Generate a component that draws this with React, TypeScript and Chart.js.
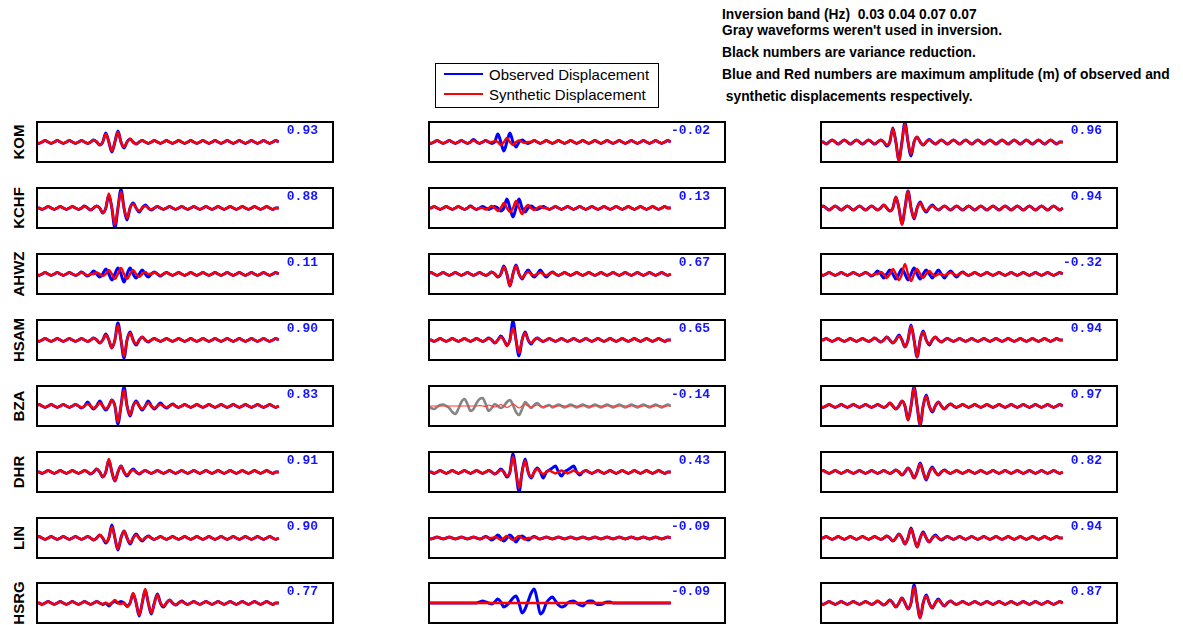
import React, { useEffect, useRef } from "react";
import { Chart, registerables } from "chart.js";

Chart.register(...registerables);

// ---------------- data ----------------
const stations = ["KOM", "KCHF", "AHWZ", "HSAM", "BZA", "DHR", "LIN", "HSRG"];

const varianceReduction = [
  [0.93, -0.02, 0.96],
  [0.88, 0.13, 0.94],
  [0.11, 0.67, -0.32],
  [0.9, 0.65, 0.94],
  [0.83, -0.14, 0.97],
  [0.91, 0.43, 0.82],
  [0.9, -0.09, 0.94],
  [0.77, -0.09, 0.87],
];

const unusedInInversion = [
  [false, false, false],
  [false, false, false],
  [false, false, false],
  [false, false, false],
  [false, true, false],
  [false, false, false],
  [false, false, false],
  [false, false, false],
];

const legendLabels = ["Observed Displacement", "Synthetic Displacement"];

const notes = [
  "Inversion band (Hz)  0.03 0.04 0.07 0.07",
  "Gray waveforms weren't used in inversion.",
  "Black numbers are variance reduction.",
  "Blue and Red numbers are maximum amplitude (m) of observed and",
  " synthetic displacements respectively.",
];

// waveforms (81 samples each, displacement in panel units)
const obsKOM1 = [0,-1.5,0,1.5,0,-1.5,0,1.5,0,-1.5, 0,1.5,0,-1.5,0,1.5,0,-1.5,0,2, 0,-3,0,9,0,-10,0,11,0,-6, 0,3,0,-2,0,1.5,0,-1.5,0,1.5, 0,-1.5,0,1.5,0,-1.5,0,1.5,0,-1.5, 0,1.5,0,-1.5,0,1.5,0,-1.5,0,1.5, 0,-1.5,0,1.5,0,-1.5,0,1.5,0,-1.5, 0,1.5,0,-1.5,0,1.5,0,-1.5,0,1.5, 0];
const synKOM1 = [0,-1.5,0,1.5,0,-1.5,0,1.5,0,-1.5, 0,1.5,0,-1.5,0,1.5,0,-1.5,0,2, 0,-3,0,8,0,-9,0,10,0,-5, 0,3,0,-2,0,1.5,0,-1.5,0,1.5, 0,-1.5,0,1.5,0,-1.5,0,1.5,0,-1.5, 0,1.5,0,-1.5,0,1.5,0,-1.5,0,1.5, 0,-1.5,0,1.5,0,-1.5,0,1.5,0,-1.5, 0,1.5,0,-1.5,0,1.5,0,-1.5,0,1.5, 0];
const obsKOM2 = [0,-1.5,0,1.5,0,-1.5,0,1.5,0,-1.5, 0,1.5,0,-1.5,0,2.5,0,-1.5,0,1.5, 0,-1.5,0,8,0,-9,0,9,0,-5, 0,2,0,-1.5,0,1.5,0,-1.5,0,1.5, 0,-1.5,0,1.5,0,-1.5,0,1.5,0,-1.5, 0,1.5,0,-1.5,0,1.5,0,-1.5,0,1.5, 0,-1.5,0,1.5,0,-1.5,0,1.5,0,-1.5, 0,1.5,0,-1.5,0,1.5,0,-1.5,0,1.5, 0];
const synKOM2 = [0,-1.5,0,1.5,0,-1.5,0,1.5,0,-1.5, 0,1.5,0,-1.5,0,1.5,0,-1.5,0,1.5, 0,0,1,0,-3,0,4,0,-3,0, 1.5,0,-1,0,0,1.5,0,-1.5,0,1.5, 0,-1.5,0,1.5,0,-1.5,0,1.5,0,-1.5, 0,1.5,0,-1.5,0,1.5,0,-1.5,0,1.5, 0,-1.5,0,1.5,0,-1.5,0,1.5,0,-1.5, 0,1.5,0,-1.5,0,1.5,0,-1.5,0,1.5, 0];
const obsKOM3 = [0,0,-2,0,2,0,-2,0,2,0, -2,0,2,0,-2,0,2,0,-2,0, 2,0,-4,0,14,0,-18,0,19.5,0, -14,0,5,0,-3,0,2.5,0,-2,0, 2,0,-2,0,2,0,-2,0,2,0, -2,0,2,0,-2,0,2,0,-2,0, 2,0,-2,0,2,0,-2,0,2,0, -2,0,2,0,-2,0,2,0,-2,0, 0];
const synKOM3 = [0,0,-2,0,2,0,-2,0,2,0, -2,0,2,0,-2,0,2,0,-2,0, 2,0,-3,0,13,0,-20,0,18,0, -12,0,5,0,-3,0,2,0,-2,0, 2,0,-2,0,2,0,-2,0,2,0, -2,0,2,0,-2,0,2,0,-2,0, 2,0,-2,0,2,0,-2,0,2,0, -2,0,2,0,-2,0,2,0,-2,0, 0];

const obsKCHF1 = [0,0,-1.5,0,1.5,0,-1.5,0,1.5,0, -1.5,0,1.5,0,-1.5,0,2,0,-2,0, 2,0,-5,0,13,0,-20,0,18.5,0, -12,0,5,0,-4,0,3,0,-2,0, 1.5,0,-1.5,0,1.5,0,-1.5,0,1.5,0, -1.5,0,1.5,0,-1.5,0,1.5,0,-1.5,0, 1.5,0,-1.5,0,1.5,0,-1.5,0,1.5,0, -1.5,0,1.5,0,-1.5,0,1.5,0,-1.5,0, 0];
const synKCHF1 = [0,0,-1.5,0,1.5,0,-1.5,0,1.5,0, -1.5,0,1.5,0,-1.5,0,1.5,0,-2,0, 2,0,-5,0,14.5,0,-17,0,16,0, -10,0,4,0,-3,0,2,0,-1.5,0, 1.5,0,-1.5,0,1.5,0,-1.5,0,1.5,0, -1.5,0,1.5,0,-1.5,0,1.5,0,-1.5,0, 1.5,0,-1.5,0,1.5,0,-1.5,0,1.5,0, -1.5,0,1.5,0,-1.5,0,1.5,0,-1.5,0, 0];
const obsKCHF2 = [0,0,1.5,0,-1.5,0,1.5,0,-1.5,0, 1.5,0,-1.5,0,2,0,-1.5,0,1.5,0, -1.5,0,1.5,0,-3,0,9,0,-9,0, 9,0,-4,0,2,0,-1.5,0,1.5,0, -1.5,0,1.5,0,-1.5,0,1.5,0,-1.5,0, 1.5,0,-1.5,0,1.5,0,-1.5,0,1.5,0, -1.5,0,1.5,0,-1.5,0,1.5,0,-1.5,0, 1.5,0,-1.5,0,1.5,0,-1.5,0,1.5,0, 0];
const synKCHF2 = [0,0,1.5,0,-1.5,0,1.5,0,-1.5,0, 1.5,0,-1.5,0,1.5,0,-1.5,0,0,-1.5, 0,2,0,-3,0,5,0,-4,0,7, 0,-6,0,3,0,-2,0,1.5,0,0, -1.5,0,1.5,0,-1.5,0,1.5,0,-1.5,0, 1.5,0,-1.5,0,1.5,0,-1.5,0,1.5,0, -1.5,0,1.5,0,-1.5,0,1.5,0,-1.5,0, 1.5,0,-1.5,0,1.5,0,-1.5,0,1.5,0, 0];
const obsKCHF3 = [0,2,0,-2,0,2,0,-2,0,2, 0,-2,0,2,0,-2,0,2,0,-2, 0,3,0,-3,0,11,0,-16,0,17, 0,-11,0,6,0,-4,0,3,0,-2, 0,2,0,-2,0,2,0,-2,0,2, 0,-2,0,2,0,-2,0,2,0,-2, 0,2,0,-2,0,2,0,-2,0,2, 0,-2,0,2,0,-2,0,2,0,-2, 0];
const synKCHF3 = [0,2,0,-2,0,2,0,-2,0,2, 0,-2,0,2,0,-2,0,2,0,-2, 0,3,0,-3,0,11,0,-17,0,17, 0,-10,0,5,0,-3,0,2,0,-2, 0,2,0,-2,0,2,0,-2,0,2, 0,-2,0,2,0,-2,0,2,0,-2, 0,2,0,-2,0,2,0,-2,0,2, 0,-2,0,2,0,-2,0,2,0,-2, 0];

const obsAHWZ1 = [0,-1.5,0,1.5,0,-1.5,0,1.5,0,-1.5, 0,1.5,0,-1.5,0,2,0,-2,0,3, 0,-3,0,5,0,-6,0,6,0,-8, 0,6,0,-4,0,4,0,-3,0,2, 0,-2,0,1.5,0,-1.5,0,1.5,0,-1.5, 0,1.5,0,-1.5,0,1.5,0,-1.5,0,1.5, 0,-1.5,0,1.5,0,-1.5,0,1.5,0,-1.5, 0,1.5,0,-1.5,0,1.5,0,-1.5,0,1.5, 0];
const synAHWZ1 = [0,-1.5,0,1.5,0,-1.5,0,1.5,0,-1.5, 0,1.5,0,-1.5,0,1.5,0,-1.5,0,0, 1.5,0,-2,0,4,0,-5,0,6,0, -5,0,4,0,-3,0,2,0,0,1.5, 0,-1.5,0,1.5,0,-1.5,0,1.5,0,-1.5, 0,1.5,0,-1.5,0,1.5,0,-1.5,0,1.5, 0,-1.5,0,1.5,0,-1.5,0,1.5,0,-1.5, 0,1.5,0,-1.5,0,1.5,0,-1.5,0,1.5, 0];
const obsAHWZ2 = [0,1.5,0,-1.5,0,1.5,0,-1.5,0,1.5, 0,-1.5,0,1.5,0,-1.5,0,1.5,0,-1.5, 0,2,0,-3,0,8,0,-12,0,9, 0,-5,0,4,0,-3,0,4,0,-3, 0,2,0,-1.5,0,1.5,0,-1.5,0,1.5, 0,-1.5,0,1.5,0,-1.5,0,1.5,0,-1.5, 0,1.5,0,-1.5,0,1.5,0,-1.5,0,1.5, 0,-1.5,0,1.5,0,-1.5,0,1.5,0,-1.5, 0];
const synAHWZ2 = [0,1.5,0,-1.5,0,1.5,0,-1.5,0,1.5, 0,-1.5,0,1.5,0,-1.5,0,1.5,0,-1.5, 0,2,0,-3,0,7,0,-12,0,8, 0,-4,0,2,0,-1.5,0,1.5,0,-1.5, 0,1.5,0,-1.5,0,1.5,0,-1.5,0,1.5, 0,-1.5,0,1.5,0,-1.5,0,1.5,0,-1.5, 0,1.5,0,-1.5,0,1.5,0,-1.5,0,1.5, 0,-1.5,0,1.5,0,-1.5,0,1.5,0,-1.5, 0];
const obsAHWZ3 = [0,-1.5,0,1.5,0,-1.5,0,1.5,0,-1.5, 0,1.5,0,-1.5,0,1.5,0,-2,0,3, 0,-4,0,4,0,-5,0,5,0,-6, 0,6,0,-5,0,4,0,-4,0,4, 0,-4,0,3,0,-3,0,2,0,-1.5, 0,1.5,0,-1.5,0,1.5,0,-1.5,0,1.5, 0,-1.5,0,1.5,0,-1.5,0,1.5,0,-1.5, 0,1.5,0,-1.5,0,1.5,0,-1.5,0,1.5, 0];
const synAHWZ3 = [0,-1.5,0,1.5,0,-1.5,0,1.5,0,-1.5, 0,1.5,0,-1.5,0,1.5,0,-1.5,0,0, 2,0,-4,0,5,0,-6,0,10,0, -7,0,5,0,-4,0,3,0,-2,0, 0,-1.5,0,1.5,0,-1.5,0,1.5,0,-1.5, 0,1.5,0,-1.5,0,1.5,0,-1.5,0,1.5, 0,-1.5,0,1.5,0,-1.5,0,1.5,0,-1.5, 0,1.5,0,-1.5,0,1.5,0,-1.5,0,1.5, 0];

const obsHSAM1 = [0,-1.5,0,1.5,0,-1.5,0,1.5,0,-1.5, 0,1.5,0,-1.5,0,1.5,0,-1.5,0,2, 0,-3,0,6,0,-8,0,17,0,-18, 0,8,0,-5,0,3,0,-2,0,1.5, 0,-1.5,0,1.5,0,-1.5,0,1.5,0,-1.5, 0,1.5,0,-1.5,0,1.5,0,-1.5,0,1.5, 0,-1.5,0,1.5,0,-1.5,0,1.5,0,-1.5, 0,1.5,0,-1.5,0,1.5,0,-1.5,0,1.5, 0];
const synHSAM1 = [0,-1.5,0,1.5,0,-1.5,0,1.5,0,-1.5, 0,1.5,0,-1.5,0,1.5,0,-1.5,0,2, 0,-3,0,5,0,-8,0,15,0,-16, 0,7,0,-4,0,3,0,-1.5,0,1.5, 0,-1.5,0,1.5,0,-1.5,0,1.5,0,-1.5, 0,1.5,0,-1.5,0,1.5,0,-1.5,0,1.5, 0,-1.5,0,1.5,0,-1.5,0,1.5,0,-1.5, 0,1.5,0,-1.5,0,1.5,0,-1.5,0,1.5, 0];
const obsHSAM2 = [0,0,-1.5,0,1.5,0,-1.5,0,1.5,0, -1.5,0,1.5,0,-1.5,0,1.5,0,-1.5,0, 2,0,-3,0,4,0,-5,0,19,0, -16,0,8,0,-4,0,2,0,-1.5,0, 1.5,0,-1.5,0,1.5,0,-1.5,0,1.5,0, -1.5,0,1.5,0,-1.5,0,1.5,0,-1.5,0, 1.5,0,-1.5,0,1.5,0,-1.5,0,1.5,0, -1.5,0,1.5,0,-1.5,0,1.5,0,-1.5,0, 0];
const synHSAM2 = [0,0,-1.5,0,1.5,0,-1.5,0,1.5,0, -1.5,0,1.5,0,-1.5,0,1.5,0,-1.5,0, 1.5,0,-3,0,3,0,-6,0,12,0, -13,0,7,0,-3,0,2,0,-1.5,0, 1.5,0,-1.5,0,1.5,0,-1.5,0,1.5,0, -1.5,0,1.5,0,-1.5,0,1.5,0,-1.5,0, 1.5,0,-1.5,0,1.5,0,-1.5,0,1.5,0, -1.5,0,1.5,0,-1.5,0,1.5,0,-1.5,0, 0];
const obsHSAM3 = [0,0,1.5,0,-1.5,0,1.5,0,-1.5,0, 1.5,0,-1.5,0,1.5,0,-1.5,0,2,0, -2,0,3,0,-3,0,5,0,-7,0, 15,0,-17,0,9,0,-5,0,3,0, -2,0,1.5,0,-1.5,0,1.5,0,-1.5,0, 1.5,0,-1.5,0,1.5,0,-1.5,0,1.5,0, -1.5,0,1.5,0,-1.5,0,1.5,0,-1.5,0, 1.5,0,-1.5,0,1.5,0,-1.5,0,1.5,0, 0];
const synHSAM3 = [0,0,1.5,0,-1.5,0,1.5,0,-1.5,0, 1.5,0,-1.5,0,1.5,0,-1.5,0,2,0, -2,0,3,0,-3,0,4,0,-7,0, 14,0,-17,0,8,0,-4,0,3,0, -2,0,1.5,0,-1.5,0,1.5,0,-1.5,0, 1.5,0,-1.5,0,1.5,0,-1.5,0,1.5,0, -1.5,0,1.5,0,-1.5,0,1.5,0,-1.5,0, 1.5,0,-1.5,0,1.5,0,-1.5,0,1.5,0, 0];

const obsBZA1 = [0,1.5,0,-1.5,0,1.5,0,-1.5,0,1.5, 0,-1.5,0,1.5,0,-2,0,4,0,-3, 0,5,0,-4,0,6,0,-18,0,19, 0,-10,0,5,0,-4,0,5,0,-3, 0,3,0,-2,0,2,0,-1.5,0,1.5, 0,-1.5,0,1.5,0,-1.5,0,1.5,0,-1.5, 0,1.5,0,-1.5,0,1.5,0,-1.5,0,1.5, 0,-1.5,0,1.5,0,-1.5,0,1.5,0,-1.5, 0];
const synBZA1 = [0,1.5,0,-1.5,0,1.5,0,-1.5,0,1.5, 0,-1.5,0,1.5,0,-1.5,0,2,0,-2, 0,3,0,-3,0,6,0,-16,0,16, 0,-9,0,4,0,-3,0,3,0,-2, 0,1.5,0,-1.5,0,1.5,0,-1.5,0,1.5, 0,-1.5,0,1.5,0,-1.5,0,1.5,0,-1.5, 0,1.5,0,-1.5,0,1.5,0,-1.5,0,1.5, 0,-1.5,0,1.5,0,-1.5,0,1.5,0,-1.5, 0];
const obsBZA2 = [0,-2,-3,-1,1,1.5,0,-2,-6,-8, -3,4,7,2,-5,-3,3,7,8,2, -5,-2,2,0,-2,0,4,6,1,-6, -9,-3,4,1,-2,1,3,0,-1.5,0, 1,-1.5,0,1.5,0,-1.5,0,1.5,0,-1.5, 0,1.5,0,-1.5,0,1.5,0,-1.5,0,1.5, 0,-1.5,0,1.5,0,-1.5,0,1.5,0,-1.5, 0,1.5,0,-1.5,0,1.5,0,-1.5,0,1.5, 0];
const synBZA2 = [0,0,0,0,0,0,0,0,0,0, 0,0,0,0,0,0,0,0.5,0,-0.5, 1,0,-1,0,1.5,0,-1.5,0,2,0, -2,0,1.5,0,-1,0,1,0,-0.5,0, 0.5,0,-0.5,0,0.5,0,-0.5,0,0.5,0, -0.5,0,0.5,0,-0.5,0,0.5,0,-0.5,0, 0.5,0,-0.5,0,0.5,0,-0.5,0,0.5,0, -0.5,0,0.5,0,-0.5,0,0.5,0,-0.5,0, 0];
const obsBZA3 = [0,-1.5,0,1.5,0,-1.5,0,1.5,0,-1.5, 0,1.5,0,-1.5,0,1.5,0,-1.5,0,1.5, 0,-1.5,0,3,0,-3,0,5,0,-14, 0,19,0,-19,0,11,0,-6,0,4, 0,-3,0,2,0,-1.5,0,1.5,0,-1.5, 0,1.5,0,-1.5,0,1.5,0,-1.5,0,1.5, 0,-1.5,0,1.5,0,-1.5,0,1.5,0,-1.5, 0,1.5,0,-1.5,0,1.5,0,-1.5,0,1.5, 0];
const synBZA3 = [0,-1.5,0,1.5,0,-1.5,0,1.5,0,-1.5, 0,1.5,0,-1.5,0,1.5,0,-1.5,0,1.5, 0,-1.5,0,3,0,-3,0,5,0,-14, 0,18,0,-19,0,10,0,-5,0,4, 0,-3,0,2,0,-1.5,0,1.5,0,-1.5, 0,1.5,0,-1.5,0,1.5,0,-1.5,0,1.5, 0,-1.5,0,1.5,0,-1.5,0,1.5,0,-1.5, 0,1.5,0,-1.5,0,1.5,0,-1.5,0,1.5, 0];

const obsDHR1 = [0,0,-1.5,0,1.5,0,-1.5,0,1.5,0, -1.5,0,1.5,0,-1.5,0,1.5,0,-2,0, 3,0,-5,0,12,0,-9,0,6,0, -4,0,3,0,-2,0,1.5,0,-1.5,0, 1.5,0,-1.5,0,1.5,0,-1.5,0,1.5,0, -1.5,0,1.5,0,-1.5,0,1.5,0,-1.5,0, 1.5,0,-1.5,0,1.5,0,-1.5,0,1.5,0, -1.5,0,1.5,0,-1.5,0,1.5,0,-1.5,0, 0];
const synDHR1 = [0,0,-1.5,0,1.5,0,-1.5,0,1.5,0, -1.5,0,1.5,0,-1.5,0,1.5,0,-1.5,0, 3,0,-5,0,13,0,-9,0,6,0, -3,0,2,0,-1.5,0,1.5,0,-1.5,0, 1.5,0,-1.5,0,1.5,0,-1.5,0,1.5,0, -1.5,0,1.5,0,-1.5,0,1.5,0,-1.5,0, 1.5,0,-1.5,0,1.5,0,-1.5,0,1.5,0, -1.5,0,1.5,0,-1.5,0,1.5,0,-1.5,0, 0];
const obsDHR2 = [0,0,-1.5,0,1.5,0,-1.5,0,1.5,0, -1.5,0,1.5,0,-1.5,0,1.5,0,-1.5,0, 1.5,0,-2,0,3,0,-5,0,18,0, -20,0,13,0,-6,0,4,0,-6,0, 2,4,6,0,-4,0,2,4,6,0, -3,0,1.5,0,-1.5,0,1.5,0,-1.5,0, 1.5,0,-1.5,0,1.5,0,-1.5,0,1.5,0, -1.5,0,1.5,0,-1.5,0,1.5,0,-1.5,0, 0];
const synDHR2 = [0,0,-1.5,0,1.5,0,-1.5,0,1.5,0, -1.5,0,1.5,0,-1.5,0,1.5,0,-1.5,0, 1.5,0,-2,0,2,0,-4,0,15,0, -16,0,11,0,-5,0,3,0,-2,0, 1.5,0,-1.5,0,1.5,0,-1.5,0,1.5,0, -1.5,0,1.5,0,-1.5,0,1.5,0,-1.5,0, 1.5,0,-1.5,0,1.5,0,-1.5,0,1.5,0, -1.5,0,1.5,0,-1.5,0,1.5,0,-1.5,0, 0];
const obsDHR3 = [0,1.5,0,-1.5,0,1.5,0,-1.5,0,1.5, 0,-1.5,0,1.5,0,-1.5,0,1.5,0,-1.5, 0,1.5,0,-1.5,0,2,0,-3,0,4, 0,-6,0,9,0,-8,0,5,0,-3, 0,2,0,-1.5,0,1.5,0,-1.5,0,1.5, 0,-1.5,0,1.5,0,-1.5,0,1.5,0,-1.5, 0,1.5,0,-1.5,0,1.5,0,-1.5,0,1.5, 0,-1.5,0,1.5,0,-1.5,0,1.5,0,-1.5, 0];
const synDHR3 = [0,1.5,0,-1.5,0,1.5,0,-1.5,0,1.5, 0,-1.5,0,1.5,0,-1.5,0,1.5,0,-1.5, 0,1.5,0,-1.5,0,2,0,-3,0,4, 0,-6,0,8,0,-7,0,4,0,-3, 0,1.5,0,-1.5,0,1.5,0,-1.5,0,1.5, 0,-1.5,0,1.5,0,-1.5,0,1.5,0,-1.5, 0,1.5,0,-1.5,0,1.5,0,-1.5,0,1.5, 0,-1.5,0,1.5,0,-1.5,0,1.5,0,-1.5, 0];

const obsLIN1 = [0,1.5,0,-1.5,0,1.5,0,-1.5,0,1.5, 0,-1.5,0,1.5,0,-1.5,0,1.5,0,-2, 0,3,0,-5,0,13,0,-12,0,7, 0,-6,0,4,0,-3,0,2,0,-1.5, 0,1.5,0,-1.5,0,1.5,0,-1.5,0,1.5, 0,-1.5,0,1.5,0,-1.5,0,1.5,0,-1.5, 0,1.5,0,-1.5,0,1.5,0,-1.5,0,1.5, 0,-1.5,0,1.5,0,-1.5,0,1.5,0,-1.5, 0];
const synLIN1 = [0,1.5,0,-1.5,0,1.5,0,-1.5,0,1.5, 0,-1.5,0,1.5,0,-1.5,0,1.5,0,-2, 0,3,0,-4,0,11,0,-11,0,7, 0,-5,0,3,0,-2,0,1.5,0,-1.5, 0,1.5,0,-1.5,0,1.5,0,-1.5,0,1.5, 0,-1.5,0,1.5,0,-1.5,0,1.5,0,-1.5, 0,1.5,0,-1.5,0,1.5,0,-1.5,0,1.5, 0,-1.5,0,1.5,0,-1.5,0,1.5,0,-1.5, 0];
const obsLIN2 = [0,-1,0,1,0,-1,0,1,0,-1, 0,1,0,-1,0,1,0,-1,0,1.5, 0,-2,0,3,0,-3,0,3,0,-4, 0,2,0,-2,0,1.5,0,-1,0,1, 0,-1,0,1,0,-1,0,1,0,-1, 0,1,0,-1,0,1,0,-1,0,1, 0,-1,0,1,0,-1,0,1,0,-1, 0,1,0,-1,0,1,0,-1,0,1, 0];
const synLIN2 = [0,-1,0,1,0,-1,0,1,0,-1, 0,1,0,-1,0,1,0,-1,0,1, 0,0,1,0,-2,0,2,0,-2,0, 2,0,-1.5,0,0,1,0,-1,0,1, 0,-1,0,1,0,-1,0,1,0,-1, 0,1,0,-1,0,1,0,-1,0,1, 0,-1,0,1,0,-1,0,1,0,-1, 0,1,0,-1,0,1,0,-1,0,1, 0];
const obsLIN3 = [0,0,1.5,0,-1.5,0,1.5,0,-1.5,0, 1.5,0,-1.5,0,1.5,0,-1.5,0,1.5,0, -1.5,0,2,0,-3,0,4,0,-6,0, 10,0,-9,0,6,0,-4,0,3,0, -2,0,1.5,0,-1.5,0,1.5,0,-1.5,0, 1.5,0,-1.5,0,1.5,0,-1.5,0,1.5,0, -1.5,0,1.5,0,-1.5,0,1.5,0,-1.5,0, 1.5,0,-1.5,0,1.5,0,-1.5,0,1.5,0, 0];
const synLIN3 = [0,0,1.5,0,-1.5,0,1.5,0,-1.5,0, 1.5,0,-1.5,0,1.5,0,-1.5,0,1.5,0, -1.5,0,2,0,-3,0,4,0,-6,0, 9,0,-9,0,5,0,-4,0,2,0, -1.5,0,1.5,0,-1.5,0,1.5,0,-1.5,0, 1.5,0,-1.5,0,1.5,0,-1.5,0,1.5,0, -1.5,0,1.5,0,-1.5,0,1.5,0,-1.5,0, 1.5,0,-1.5,0,1.5,0,-1.5,0,1.5,0, 0];

const obsHSRG1 = [0,0,-1.5,0,1.5,0,-1.5,0,1.5,0, -1.5,0,1.5,0,-1.5,0,1.5,0,-1.5,0, 1.5,0,-1.5,0,-3,0,1.5,0,1.5,0, -3,0,9,0,-13,0,13,0,-11,0, 9,0,-4,0,3,0,-2,0,2,0, -1.5,0,1.5,0,-1.5,0,1.5,0,-1.5,0, 1.5,0,-1.5,0,1.5,0,-1.5,0,1.5,0, -1.5,0,1.5,0,-1.5,0,1.5,0,-1.5,0, 0];
const synHSRG1 = [0,0,-1.5,0,1.5,0,-1.5,0,1.5,0, -1.5,0,1.5,0,-1.5,0,1.5,0,-1.5,0, 1.5,0,-1,0,-1,0,3,0,-1,0, -4,0,10,0,-12,0,14,0,-10,0, 8,0,-3,0,3,0,-2,0,1.5,0, -1.5,0,1.5,0,-1.5,0,1.5,0,-1.5,0, 1.5,0,-1.5,0,1.5,0,-1.5,0,1.5,0, -1.5,0,1.5,0,-1.5,0,1.5,0,-1.5,0, 0];
const obsHSRG2 = [0,0,0,0,0,0,0,0,0,0, 0,0,0,0,0,0,0,1,2,1, 0,-1,1,4,1,-4,-2,1,5,7, 0,-10,-6,2,10,14,3,-11,-8,0, 4,6,2,-2,-4,-3,0,1.5,2,0, -2,-3,0,2,2,0,-1.5,-1.5,0,1, 1,0,0,0,0,0,0,0,0,0, 0,0,0,0,0,0,0,0,0,0, 0];
const synHSRG2 = [0,0,0,0,0,0,0,0,0,0, 0,0,0,0,0,0,0,0,0,0, 0,0,0,0,0,0,0,0,0,0, 0,0,0,0,0,0,0,0,0,0, 0,0,0,0,0,0,0,0,0,0, 0,0,0,0,0,0,0,0,0,0, 0,0,0,0,0,0,0,0,0,0, 0,0,0,0,0,0,0,0,0,0, 0];
const obsHSRG3 = [0,-1.5,0,1.5,0,-1.5,0,1.5,0,-1.5, 0,1.5,0,-1.5,0,1.5,0,-1.5,0,2, 0,-2,0,3,0,-4,0,5,0,-6, 0,18,0,-15,0,8,0,-5,0,4, 0,-3,0,2,0,-1.5,0,1.5,0,-1.5, 0,1.5,0,-1.5,0,1.5,0,-1.5,0,1.5, 0,-1.5,0,1.5,0,-1.5,0,1.5,0,-1.5, 0,1.5,0,-1.5,0,1.5,0,-1.5,0,1.5, 0];
const synHSRG3 = [0,-1.5,0,1.5,0,-1.5,0,1.5,0,-1.5, 0,1.5,0,-1.5,0,1.5,0,-1.5,0,2, 0,-2,0,3,0,-4,0,5,0,-6, 0,16,0,-15,0,7,0,-5,0,3, 0,-3,0,2,0,-1.5,0,1.5,0,-1.5, 0,1.5,0,-1.5,0,1.5,0,-1.5,0,1.5, 0,-1.5,0,1.5,0,-1.5,0,1.5,0,-1.5, 0,1.5,0,-1.5,0,1.5,0,-1.5,0,1.5, 0];

const observed = [
  [obsKOM1, obsKOM2, obsKOM3],
  [obsKCHF1, obsKCHF2, obsKCHF3],
  [obsAHWZ1, obsAHWZ2, obsAHWZ3],
  [obsHSAM1, obsHSAM2, obsHSAM3],
  [obsBZA1, obsBZA2, obsBZA3],
  [obsDHR1, obsDHR2, obsDHR3],
  [obsLIN1, obsLIN2, obsLIN3],
  [obsHSRG1, obsHSRG2, obsHSRG3],
];
const synthetic = [
  [synKOM1, synKOM2, synKOM3],
  [synKCHF1, synKCHF2, synKCHF3],
  [synAHWZ1, synAHWZ2, synAHWZ3],
  [synHSAM1, synHSAM2, synHSAM3],
  [synBZA1, synBZA2, synBZA3],
  [synDHR1, synDHR2, synDHR3],
  [synLIN1, synLIN2, synLIN3],
  [synHSRG1, synHSRG2, synHSRG3],
];

// ---------------- layout ----------------
const COL_LEFT = [36, 428, 820];
const ROW_TOP = [121, 187, 253, 319, 385, 451, 517, 582];
const BOX_W = 298;
const BOX_H = 42;
const X_MAX = 98.2;
const Y_HALF = 21;

const framePlugin = {
  id: "frame",
  afterDraw(chart: any) {
    const ctx = chart.ctx;
    ctx.save();
    ctx.strokeStyle = "#000";
    ctx.lineWidth = 2;
    ctx.strokeRect(1, 1, chart.width - 2, chart.height - 2);
    ctx.restore();
  },
};

function Panel({ obs, syn, gray, left, top }: { obs: number[]; syn: number[]; gray: boolean; left: number; top: number }) {
  const ref = useRef<HTMLCanvasElement | null>(null);
  useEffect(() => {
    if (!ref.current) return;
    const chart = new Chart(ref.current, {
      type: "line",
      data: {
        datasets: [
          {
            data: obs.map((v, i) => ({ x: i, y: v })),
            borderColor: gray ? "#858585" : "#0000ff",
            borderWidth: gray ? 2.6 : 3,
            pointRadius: 0,
            fill: false,
            order: 2,
            cubicInterpolationMode: "monotone",
          },
          {
            data: syn.map((v, i) => ({ x: i, y: v })),
            borderColor: gray ? "#ff3a3a" : "#ff0000",
            borderWidth: gray ? 1.2 : 2.4,
            pointRadius: 0,
            fill: false,
            order: 1,
            cubicInterpolationMode: "monotone",
          },
        ],
      },
      options: {
        animation: false,
        responsive: false,
        events: [],
        layout: { padding: 0 },
        plugins: { legend: { display: false }, tooltip: { enabled: false }, title: { display: false } },
        scales: {
          x: { type: "linear", display: false, min: 0, max: X_MAX },
          y: { type: "linear", display: false, min: -Y_HALF, max: Y_HALF },
        },
      },
      plugins: [framePlugin],
    } as any);
    return () => chart.destroy();
  }, [obs, syn, gray]);
  return (
    <canvas
      ref={ref}
      width={BOX_W}
      height={BOX_H}
      style={{ position: "absolute", left, top, width: BOX_W, height: BOX_H }}
    />
  );
}

export default function App() {
  const noteCenters = [15, 31, 53, 75, 97];
  return (
    <div
      style={{
        position: "absolute",
        left: 0,
        top: 0,
        width: 1183,
        height: 625,
        overflow: "hidden",
        background: "#fff",
        fontFamily: "Arial, 'Liberation Sans', sans-serif",
        color: "#000",
      }}
    >
      {notes.map((t, i) => (
        <div
          key={"n" + i}
          style={{
            position: "absolute",
            left: 722,
            top: noteCenters[i] - 8,
            height: 16,
            lineHeight: "16px",
            font: "bold 13.8px Arial, 'Liberation Sans', sans-serif",
            whiteSpace: "pre",
          }}
        >
          {t}
        </div>
      ))}

      <div
        style={{
          position: "absolute",
          left: 435,
          top: 63,
          width: 224,
          height: 45,
          border: "1px solid #000",
          boxSizing: "border-box",
          background: "#fff",
        }}
      >
        {legendLabels.map((lab, i) => (
          <React.Fragment key={lab}>
            <div
              style={{
                position: "absolute",
                left: 8,
                top: 9 + i * 20,
                width: 39,
                height: 2,
                background: i === 0 ? "#0000ff" : "#ff0000",
              }}
            />
            <div
              style={{
                position: "absolute",
                left: 53,
                top: 1.5 + i * 20,
                lineHeight: "17px",
                font: "15px Arial, 'Liberation Sans', sans-serif",
                whiteSpace: "nowrap",
              }}
            >
              {lab}
            </div>
          </React.Fragment>
        ))}
      </div>

      {stations.map((st, r) => (
        <React.Fragment key={st}>
          <div
            style={{
              position: "absolute",
              left: 19,
              top: ROW_TOP[r] + BOX_H / 2,
              transform: "translate(-50%, -50%) rotate(-90deg)",
              font: "bold 15px Arial, 'Liberation Sans', sans-serif",
              whiteSpace: "nowrap",
              lineHeight: "16px",
            }}
          >
            {st}
          </div>
          {COL_LEFT.map((cl, c) => (
            <React.Fragment key={st + c}>
              <Panel
                obs={observed[r][c]}
                syn={synthetic[r][c]}
                gray={unusedInInversion[r][c]}
                left={cl}
                top={ROW_TOP[r]}
              />
              <div
                style={{
                  position: "absolute",
                  left: cl + 200,
                  width: 82,
                  top: ROW_TOP[r] + 3,
                  textAlign: "right",
                  font: "bold 13px 'Liberation Mono', 'Courier New', monospace",
                  lineHeight: "14px",
                  color: "#1414ff",
                }}
              >
                {varianceReduction[r][c].toFixed(2)}
              </div>
            </React.Fragment>
          ))}
        </React.Fragment>
      ))}
    </div>
  );
}
